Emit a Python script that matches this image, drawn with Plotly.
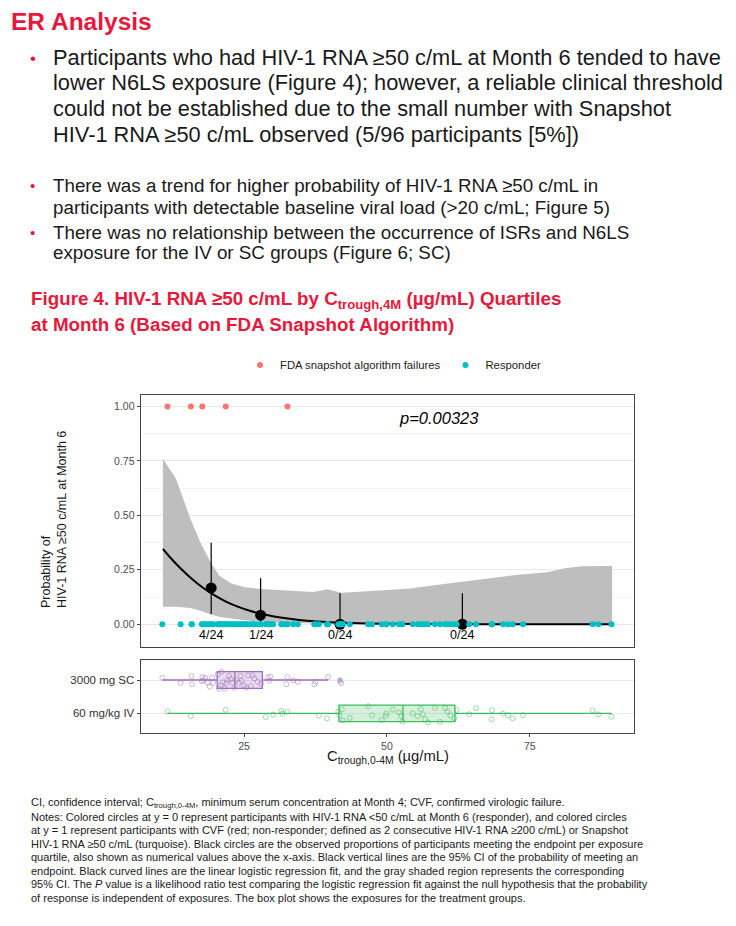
import plotly.graph_objects as go

# exposures (Ctrough, 0-4M, ug/mL), per treatment group
sc_ctrough = [10.7, 13.9, 15.8, 15.9, 17.6, 17.7, 17.9, 18.2, 18.6, 19.0, 19.4, 19.6,
              20.4, 20.6, 20.9, 21.1, 21.3, 21.6, 21.9, 22.1, 22.4, 22.7, 23.0, 23.3,
              23.6, 24.1, 24.4, 24.6, 25.0, 25.4, 25.7, 26.2, 26.5, 26.8, 27.4, 28.0,
              29.2, 29.4, 29.6, 32.4, 32.6, 33.6, 34.4, 37.3, 37.5, 39.7, 41.8, 42.0]
iv_ctrough = [11.6, 15.7, 21.8, 28.8, 30.1, 31.5, 31.7, 32.6, 38.1, 39.5, 41.5, 41.7,
              42.1, 42.3, 43.5, 46.7, 47.4, 49.1, 49.8, 49.9, 51.0, 52.1, 52.5, 52.7,
              54.5, 55.4, 55.9, 56.3, 56.7, 57.2, 58.4, 59.3, 60.2, 60.6, 61.1, 61.8,
              62.2, 64.4, 65.6, 68.3, 68.4, 70.3, 71.2, 72.0, 73.8, 86.0, 87.0, 89.3]
sc_outliers = [41.8]

# box statistics as drawn
groups = ["3000 mg SC", "60 mg/kg IV"]
box_q1 = [20.3, 41.6]
box_median = [23.4, 52.8]
box_q3 = [28.2, 61.9]
box_low = [10.7, 11.6]
box_high = [39.7, 89.3]

# participants failing the FDA snapshot algorithm
fail_ctrough = [11.6, 15.7, 17.7, 21.8, 32.6]

# observed proportions per exposure quartile
quart_x = [19.25, 27.9, 41.8, 63.2]
quart_events = [4, 1, 0, 0]
quart_n = [24, 24, 24, 24]
quart_ci_low = [0.047, 0.001, 0.0, 0.0]
quart_ci_high = [0.374, 0.211, 0.142, 0.142]

# logistic regression fit
fit_x = [10.8, 12, 14, 16, 18, 20, 22, 24, 26, 28, 30, 33, 36, 40, 45, 50, 60, 70, 80, 89.4]
fit_y = [0.346, 0.309, 0.254, 0.206, 0.164, 0.130, 0.102, 0.080, 0.062, 0.048, 0.037,
         0.025, 0.016, 0.0096, 0.005, 0.0025, 0.0006, 0.0002, 0.0001, 0.0]

# 95% CI band of the fit
band_x = [10.8, 13.05, 15.6, 17.3, 19.1, 20.6, 22.7, 25.1, 28.7, 32.9, 37.1, 39.6, 42.0,
          48.0, 54.0, 60.0, 66.1, 72.1, 78.1, 81.1, 84.1, 89.4]
band_low = [0.081, 0.080, 0.075, 0.063, 0.046, 0.035, 0.026, 0.018, 0.011, 0.006, 0.003,
            0.0015, 0.001, 0, 0, 0, 0, 0, 0, 0, 0, 0]
band_high = [0.760, 0.670, 0.486, 0.379, 0.287, 0.225, 0.188, 0.170, 0.161, 0.154, 0.148,
             0.161, 0.145, 0.154, 0.164, 0.185, 0.206, 0.225, 0.239, 0.257, 0.266, 0.268]

p_value = "p=0.00323"

bullet_1 = ["Participants who had HIV-1 RNA ≥50 c/mL at Month 6 tended to have",
            "lower N6LS exposure (Figure 4); however, a reliable clinical threshold",
            "could not be established due to the small number with Snapshot",
            "HIV-1 RNA ≥50 c/mL observed (5/96 participants [5%])"]
bullet_2 = ["There was a trend for higher probability of HIV-1 RNA ≥50 c/mL in",
            "participants with detectable baseline viral load (>20 c/mL; Figure 5)"]
bullet_3 = ["There was no relationship between the occurrence of ISRs and N6LS",
            "exposure for the IV or SC groups (Figure 6; SC)"]
fig_title = ["Figure 4. HIV-1 RNA ≥50 c/mL by C<sub>trough,4M</sub> (µg/mL) Quartiles",
             "at Month 6 (Based on FDA Snapshot Algorithm)"]
footnote = [
    "CI, confidence interval; C<sub>trough,0-4M</sub>, minimum serum concentration at Month 4; CVF, confirmed virologic failure.",
    "Notes: Colored circles at y = 0 represent participants with HIV-1 RNA <50 c/mL at Month 6 (responder), and colored circles",
    "at y = 1 represent participants with CVF (red; non-responder; defined as 2 consecutive HIV-1 RNA ≥200 c/mL) or Snapshot",
    "HIV-1 RNA ≥50 c/mL (turquoise). Black circles are the observed proportions of participants meeting the endpoint per exposure",
    "quartile, also shown as numerical values above the x-axis. Black vertical lines are the 95% CI of the probability of meeting an",
    "endpoint. Black curved lines are the linear logistic regression fit, and the gray shaded region represents the corresponding",
    "95% CI. The <i>P</i> value is a likelihood ratio test comparing the logistic regression fit against the null hypothesis that the probability",
    "of response is independent of exposures. The box plot shows the exposures for the treatment groups."]

# page body has an 8px margin, so the figure is a bit smaller than the window
OFF = 8
W, H = 736 - 2 * OFF, 926 - 2 * OFF
FONT = "Liberation Sans, Arial, sans-serif"
RED = "#E8183C"
TXT = "#1a1a1a"


def px(x):
    return (x - OFF) / W


def py(y):
    return 1 - (y - OFF) / H


responder_x = sorted(iv_ctrough + sc_ctrough)
for v in fail_ctrough:
    responder_x.remove(v)

quart_y = [e / n for e, n in zip(quart_events, quart_n)]

fig = go.Figure()

# CI band
fig.add_trace(go.Scatter(x=band_x, y=band_low, mode="lines", line=dict(width=0),
                         showlegend=False, hoverinfo="skip"))
fig.add_trace(go.Scatter(x=band_x, y=band_high, mode="lines", line=dict(width=0),
                         fill="tonexty", fillcolor="#BEBEBE", showlegend=False,
                         hoverinfo="skip"))
# fitted curve
fig.add_trace(go.Scatter(x=fit_x, y=fit_y, mode="lines", line=dict(color="black", width=2),
                         line_shape="spline", showlegend=False))
# observed proportions with CI
fig.add_trace(go.Scatter(
    x=quart_x, y=quart_y, mode="markers",
    marker=dict(color="black", size=11),
    error_y=dict(type="data", symmetric=False,
                 array=[h - y for h, y in zip(quart_ci_high, quart_y)],
                 arrayminus=[y - l for l, y in zip(quart_ci_low, quart_y)],
                 width=0, thickness=1.2, color="black"),
    showlegend=False))
# individual outcomes
fig.add_trace(go.Scatter(x=fail_ctrough, y=[1] * len(fail_ctrough), mode="markers",
                         marker=dict(color="#F8766D", size=6),
                         name="FDA snapshot algorithm failures"))
fig.add_trace(go.Scatter(x=responder_x, y=[0] * len(responder_x), mode="markers",
                         marker=dict(color="#00BFC4", size=6), name="Responder"))

# box plot panel
box_cols = {"3000 mg SC": ("#A070BC", "rgba(160,112,188,0.25)", sc_ctrough),
            "60 mg/kg IV": ("#3DBB5B", "rgba(61,187,91,0.22)", iv_ctrough)}
for i, g in enumerate(groups):
    line_c, fill_c, vals = box_cols[g]
    fig.add_trace(go.Box(
        y=[g], q1=[box_q1[i]], median=[box_median[i]], q3=[box_q3[i]],
        lowerfence=[box_low[i]], upperfence=[box_high[i]], orientation="h",
        xaxis="x2", yaxis="y2", width=0.5, whiskerwidth=0,
        line=dict(color=line_c, width=1.3), fillcolor=fill_c,
        boxpoints=False, showlegend=False))
    fig.add_trace(go.Box(
        x=vals, y=[g] * len(vals), orientation="h", xaxis="x2", yaxis="y2",
        width=0.6, boxpoints="all", jitter=1, pointpos=0,
        line=dict(color="rgba(0,0,0,0)", width=0), fillcolor="rgba(0,0,0,0)",
        marker=dict(symbol="circle-open", size=5, color=line_c, opacity=0.5),
        showlegend=False))
fig.add_trace(go.Scatter(x=sc_outliers, y=["3000 mg SC"] * len(sc_outliers),
                         mode="markers", xaxis="x2", yaxis="y2",
                         marker=dict(color="#B8A9C4", size=5), showlegend=False))

x_dom = [px(140.6), px(634.4)]
x_rng = [6.9, 93.3]
frame = dict(showline=True, mirror=True, linecolor="#444444", linewidth=1)

annotations = []


def text(x, y, s, size, color=TXT, bold=False, xanchor="left", **kw):
    if bold:
        s = "<b>" + s + "</b>"
    annotations.append(dict(x=px(x), y=py(y), xref="paper", yref="paper", text=s,
                            showarrow=False, xanchor=xanchor, yanchor="middle", align="left",
                            font=dict(family=FONT, size=size, color=color), **kw))


def lines(x, y0, step, rows, size, **kw):
    for i, row in enumerate(rows):
        text(x, y0 + i * step, row, size, **kw)


text(9, 22, "ER Analysis", 24.5, RED, bold=True)
text(28, 58, "•", 17, RED)
lines(51, 57, 25.7, bullet_1, 21.8)
text(28, 186, "•", 15, RED)
lines(51, 186, 21, bullet_2, 18.8)
text(28, 232, "•", 15, RED)
lines(51, 232, 21, bullet_3, 18.8)
lines(29, 300, 24, fig_title, 18.8, color=RED, bold=True)
lines(29, 803, 13.5, footnote, 11)

text(54, 520, "Probability of<br>HIV-1 RNA ≥50 c/mL at Month 6", 12.5, xanchor="center",
     textangle=-90)
text(387.5, 757, "C<sub>trough,0-4M</sub> (µg/mL)", 14.8, xanchor="center")

# p-value and quartile labels in data coordinates
annotations.append(dict(x=59.1, y=0.947, xref="x", yref="y", text="<i>" + p_value + "</i>",
                        showarrow=False, font=dict(family=FONT, size=16.5, color="black")))
for qx, e, n in zip(quart_x, quart_events, quart_n):
    annotations.append(dict(x=qx, y=-0.05, xref="x", yref="y", text=f"{e}/{n}",
                            showarrow=False, font=dict(family=FONT, size=12.5, color="black")))

fig.update_layout(
    width=W, height=H, margin=dict(l=0, r=0, t=0, b=0),
    paper_bgcolor="white", plot_bgcolor="white",
    font=dict(family=FONT, color=TXT),
    showlegend=True,
    legend=dict(orientation="h", x=px(393), xanchor="center", y=py(365), yanchor="middle",
                traceorder="normal", font=dict(size=11.3, color=TXT)),
    xaxis=dict(domain=x_dom, range=x_rng, anchor="y", showticklabels=False, ticks="",
               showgrid=False, zeroline=False, **frame),
    yaxis=dict(domain=[py(646.6), py(395)], range=[-0.1025, 1.0525], anchor="x",
               tickvals=[0, 0.25, 0.5, 0.75, 1], tickformat=".2f", ticks="outside",
               ticklen=3, tickcolor="#444444", tickfont=dict(size=10.5, color="#4D4D4D"),
               gridcolor="#E8E8E8", zeroline=False,
               minor=dict(tickvals=[0.125, 0.375, 0.625, 0.875], showgrid=True,
                          gridcolor="#F3F3F3"), **frame),
    xaxis2=dict(domain=x_dom, range=x_rng, anchor="y2", tickvals=[25, 50, 75],
                ticks="outside", ticklen=3, tickcolor="#444444",
                tickfont=dict(size=10.5, color="#4D4D4D"), showgrid=False, zeroline=False,
                **frame),
    yaxis2=dict(domain=[py(733.4), py(660)], anchor="x2", type="category",
                categoryorder="array", categoryarray=["60 mg/kg IV", "3000 mg SC"],
                range=[-0.6, 1.6], ticks="outside", ticklen=3, tickcolor="#444444",
                tickfont=dict(size=11.5, color="#333333"), gridcolor="#EBEBEB", **frame),
    boxmode="overlay",
    annotations=annotations,
)

fig.write_html("out.html")
